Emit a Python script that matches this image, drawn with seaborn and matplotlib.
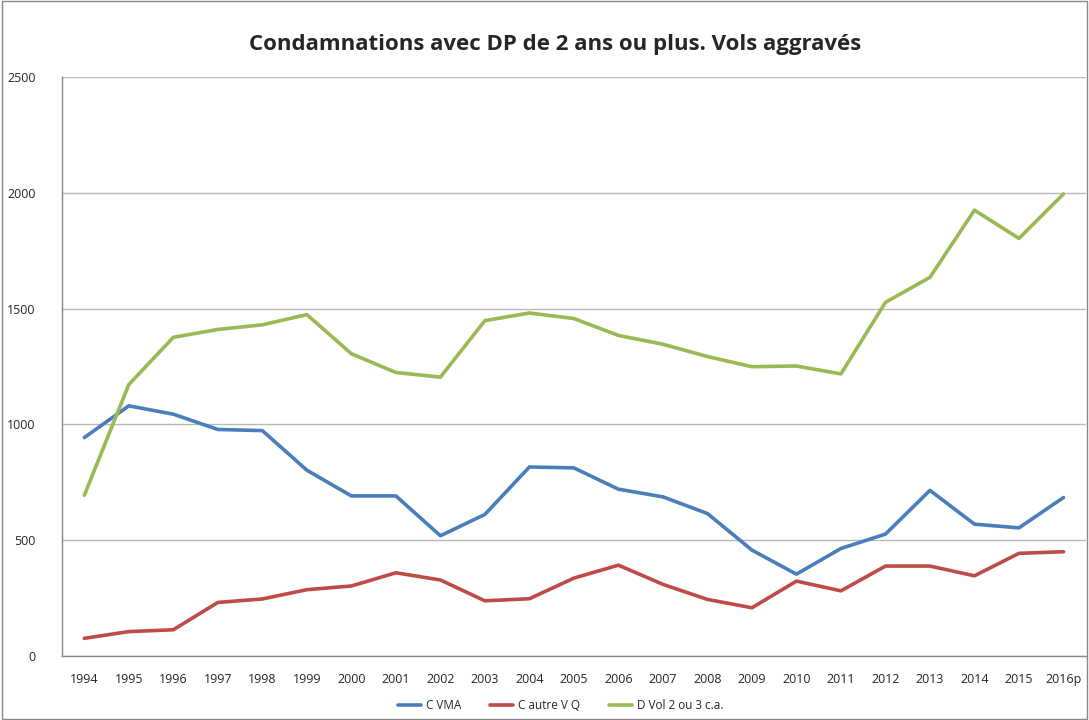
# Condamnations avec DP de 2 ans ou plus - vols aggravés
import pandas as pd
import matplotlib.pyplot as plt
import seaborn as sns

sns.set_style("white")
plt.rcParams["font.family"] = ["Open Sans", "DejaVu Sans"]

# --- données ---
annees = ["1994", "1995", "1996", "1997", "1998", "1999", "2000", "2001",
          "2002", "2003", "2004", "2005", "2006", "2007", "2008", "2009",
          "2010", "2011", "2012", "2013", "2014", "2015", "2016p"]
c_vma = [943, 1080, 1044, 978, 973, 802, 691, 691, 519, 611, 816, 812,
         720, 687, 615, 457, 353, 464, 526, 715, 569, 553, 684]
c_autre_vq = [76, 105, 113, 231, 246, 286, 302, 359, 328, 238, 247, 336,
              392, 309, 244, 208, 323, 281, 388, 388, 346, 443, 450]
d_vol = [694, 1172, 1376, 1410, 1430, 1474, 1305, 1224, 1204, 1448, 1481,
         1457, 1384, 1346, 1293, 1249, 1252, 1218, 1527, 1635, 1925, 1803, 1995]

series = ["C VMA", "C autre V Q", "D Vol 2 ou 3 c.a."]
couleurs = ["#4a7ebb", "#be4b48", "#98b954"]

df = pd.DataFrame({"annee": annees, "C VMA": c_vma,
                   "C autre V Q": c_autre_vq, "D Vol 2 ou 3 c.a.": d_vol})
df_long = df.melt(id_vars="annee", var_name="serie", value_name="valeur")
df_long["pos"] = df_long["annee"].map({a: i for i, a in enumerate(annees)})

fig = plt.figure(figsize=(10.89, 7.2), dpi=100)
ax = fig.add_axes([0.057, 0.089, 0.940, 0.804])

sns.lineplot(data=df_long, x="pos", y="valeur", hue="serie", hue_order=series,
             palette=couleurs, linewidth=2.6, ax=ax, legend=True)

ax.set_xlim(-0.5, len(annees) - 0.5)
ax.set_ylim(0, 2500)
ax.set_yticks(range(0, 2501, 500))
ax.set_xticks(range(len(annees)))
ax.set_xticklabels(annees)
ax.set_xticks([i - 0.5 for i in range(len(annees) + 1)], minor=True)
ax.tick_params(axis="x", which="major", length=0, labelsize=9, pad=12)
ax.tick_params(axis="x", which="minor", length=5, color="#888888", direction="out")
ax.tick_params(axis="y", length=5, color="#888888", direction="out", labelsize=9, pad=14)
ax.set_xlabel("")
ax.set_ylabel("")

ax.grid(axis="y", color="#b8b8b8", linewidth=1)
ax.set_axisbelow(True)
for s in ["top", "right"]:
    ax.spines[s].set_visible(False)
for s in ["left", "bottom"]:
    ax.spines[s].set_color("#888888")
    ax.spines[s].set_linewidth(1)

fig.suptitle("Condamnations avec DP de 2 ans ou plus. Vols aggravés",
             x=0.51, y=0.938, va="center", fontsize=16, fontweight="bold")

handles, labels = ax.get_legend_handles_labels()
ax.legend(handles, labels, loc="center", bbox_to_anchor=(0.487, -0.0864),
          ncol=3, frameon=False, fontsize=8.5, handlelength=2.0,
          columnspacing=2.4, handletextpad=0.4)

# cadre du graphique
fig.patches.append(plt.Rectangle((0.002, 0.002), 0.996, 0.996, transform=fig.transFigure,
                                 fill=False, edgecolor="#888888", linewidth=1))

fig.savefig("out.png", dpi=100)
